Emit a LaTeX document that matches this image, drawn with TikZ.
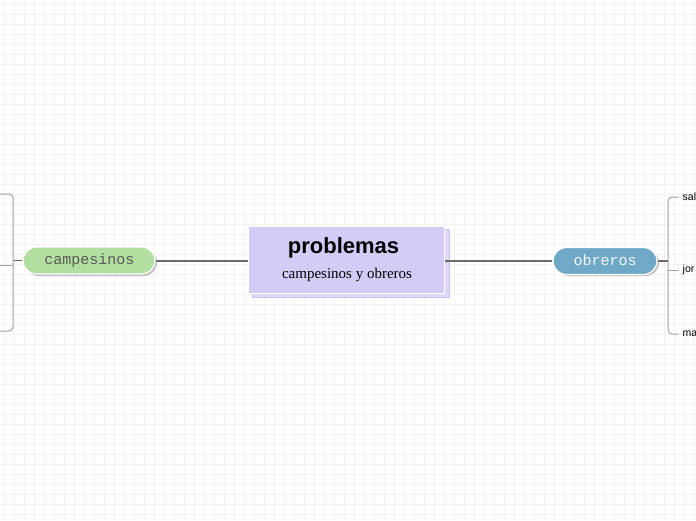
\documentclass[tikz,border=0pt]{standalone}
\usepackage{fontspec}
\usetikzlibrary{calc}
\setmainfont{Liberation Serif}
\newfontfamily\arialf{Liberation Sans}
\newfontfamily\courf{Liberation Mono}
\definecolor{gridc}{HTML}{F2F2F2}
\definecolor{lav}{HTML}{D4CCF6}
\definecolor{lavshadow}{HTML}{DDD7F8}
\definecolor{lavedge}{HTML}{C9C1EC}
\definecolor{pillgreen}{HTML}{B2DEA0}
\definecolor{pillblue}{HTML}{70A8C8}
\definecolor{conn}{HTML}{6A6A6A}
\definecolor{brk}{HTML}{A0A0A0}
\tikzset{
  gridline/.style={draw=gridc, line width=0.6pt},
  mainbox/.style={rectangle, fill=lav, draw=white, line width=1pt, minimum width=196pt, minimum height=67pt, inner sep=0pt},
  pill/.style={rectangle, rounded corners=13.5pt, draw=white, line width=1.2pt, minimum height=27pt, inner sep=0pt},
  pillshadow/.style={fill=black!25, rounded corners=13.5pt},
  connector/.style={draw=conn, line width=1.3pt},
  bracket/.style={draw=brk, line width=1pt, rounded corners=4pt},
  leaf/.style={anchor=west, inner sep=0pt, font=\arialf\fontsize{10.5}{13}\selectfont, text=black},
}
\begin{document}
\begin{tikzpicture}[x=1pt,y=-1pt]
\useasboundingbox (0,0) rectangle (696,520);
\clip (0,0) rectangle (696,520);
\fill[white] (0,0) rectangle (696,520);
\foreach \i in {4,14,...,694} \draw[gridline] (\i,0) -- (\i,520);
\foreach \j in {4,14,...,514} \draw[gridline] (0,\j) -- (696,\j);

% central box with shadow
\fill[lavshadow, draw=lavedge, line width=0.6pt] (252,229) rectangle (449,297);
\node[mainbox] (center) at (346.5,259.5) {};
\node[anchor=base, inner sep=0pt, font=\arialf\bfseries\fontsize{22}{26}\selectfont] (title) at (343.5,253) {problemas};
\node[anchor=base, inner sep=0pt, font=\fontsize{15}{18}\selectfont] (sub) at (347,278) {campesinos y obreros};

% pills
\fill[pillshadow] (25,249) rectangle (157,276);
\node[pill, fill=pillgreen, minimum width=132pt] (camp) at (89,260.5) {};
\node[anchor=base, inner sep=0pt, font=\courf\fontsize{15}{18}\selectfont, text=black!65] (camptxt) at (89.5,264.5) {campesinos};
\fill[pillshadow] (555,249) rectangle (659,276);
\node[pill, fill=pillblue, minimum width=104pt] (obr) at (605,261) {};
\node[anchor=base, inner sep=0pt, font=\courf\fontsize{15}{18}\selectfont, text=white!90!pillblue] (obrtxt) at (605,265) {obreros};

\draw[connector] (camp.east |- 0,261) -- (center.west |- 0,261);
\draw[connector] (center.east |- 0,261) -- (obr.west |- 0,261);

% left bracket
\coordinate (lj) at (13,260);
\coordinate (lt) at (-5,194);
\coordinate (lb) at (-5,331);
\coordinate (lm) at (-5,265);
\draw[connector, line width=1pt] (camp.west |- 0,260) -- (lj);
\draw[bracket] (lt) -- (13,194) -- (13,331) -- (lb);
\draw[bracket] (13,265) -- (lm);

% right bracket
\coordinate (rj) at (668,261);
\draw[connector, line width=1.8pt] (obr.east |- 0,261) -- (rj);
\node[leaf] (l1) at (682.5,197) {sal};
\node[leaf] (l2) at (682.5,270) {jor};
\node[leaf] (l3) at (682.5,334) {ma};
\draw[bracket] ($(l1.west)+(-4,0)$) -- (668,197) -- (668,334) -- ($(l3.west)+(-4,0)$);
\draw[bracket] (668,270) -- ($(l2.west)+(-4,0)$);
\end{tikzpicture}
\end{document}
